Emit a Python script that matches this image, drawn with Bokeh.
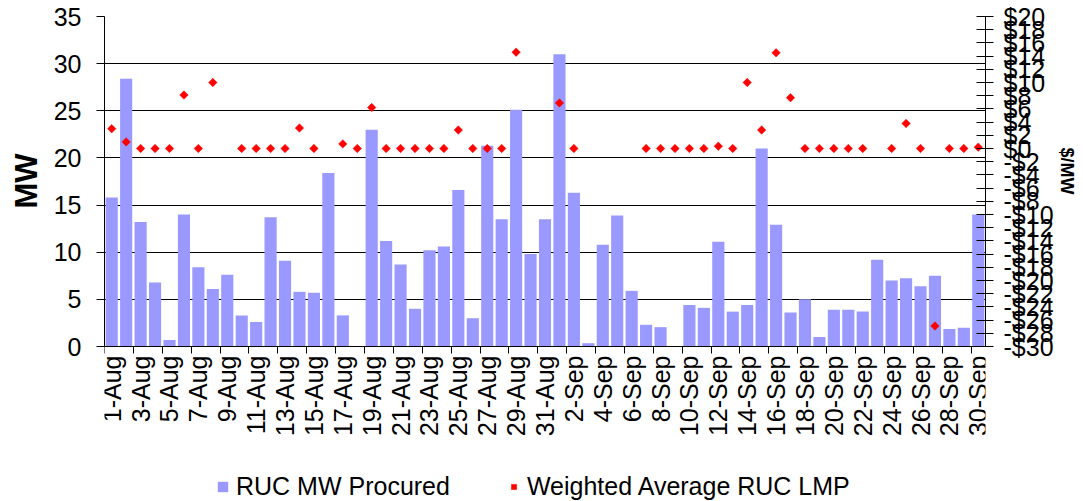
import numpy as np
from bokeh.plotting import figure
from bokeh.models import (ColumnDataSource, Range1d, LinearAxis, FixedTicker,
                          Legend, LegendItem, Title)
from bokeh.embed import file_html
from bokeh.resources import INLINE

# ---- data -------------------------------------------------------------
days = [f"{d}-Aug" for d in range(1, 32)] + [f"{d}-Sep" for d in range(1, 31)]

mw_procured = [15.8, 28.4, 13.2, 6.8, 0.7, 14.0, 8.4, 6.1, 7.6, 3.3,
               2.6, 13.7, 9.1, 5.8, 5.7, 18.4, 3.3, 0.0, 23.0, 11.2,
               8.7, 4.0, 10.2, 10.6, 16.6, 3.0, 21.3, 13.5, 25.1, 9.8,
               13.5, 31.0, 16.3, 0.35, 10.8, 13.9, 5.9, 2.3, 2.05, 0.0,
               4.4, 4.1, 11.1, 3.7, 4.4, 21.0, 12.9, 3.6, 5.0, 1.0,
               3.9, 3.9, 3.7, 9.2, 7.0, 7.25, 6.4, 7.5, 1.85, 2.0, 14.0]

nan = float("nan")
wavg_lmp = [3.0, 1.0, 0.0, 0.0, 0.0, 8.1, 0.0, 10.0, nan, 0.0,
            0.0, 0.0, 0.0, 3.1, 0.0, nan, 0.7, 0.0, 6.2, 0.0,
            0.0, 0.0, 0.0, 0.0, 2.8, 0.0, 0.0, 0.0, 14.6, nan,
            nan, 6.9, 0.0, nan, nan, nan, nan, 0.0, 0.0, 0.0,
            0.0, 0.0, 0.35, 0.0, 10.0, 2.8, 14.5, 7.7, 0.0, 0.0,
            0.0, 0.0, 0.0, nan, 0.0, 3.8, 0.0, -26.9, 0.0, 0.0, 0.2]

mw_ticks = [0, 5, 10, 15, 20, 25, 30, 35]
lmp_ticks = list(range(-30, 21, 2))
lmp_labels = {t: (f"${t}" if t >= 0 else f"-${-t}") for t in lmp_ticks}

# ---- geometry (pixels) ------------------------------------------------
W, H = 1083, 501
TOP = 16            # frame top
PLOT_H = 330        # height of the value area (0..35 MW)
BELOW = H - TOP - PLOT_H   # room under the value area for date labels + legend

mw_lo, mw_hi = 0, 35
lmp_lo, lmp_hi = -30, 20
mw_ext = mw_lo - BELOW * (mw_hi - mw_lo) / PLOT_H
lmp_ext = lmp_lo - BELOW * (lmp_hi - lmp_lo) / PLOT_H

# ---- figure -----------------------------------------------------------
FONT = "Liberation Sans"
idx = list(range(len(days)))
src = ColumnDataSource(dict(x=idx, mw=mw_procured, lmp=wavg_lmp))

p = figure(width=W, height=H, output_backend="svg", toolbar_location=None,
           x_range=Range1d(-0.5, len(days) - 0.5),
           y_range=Range1d(mw_ext, mw_hi),
           min_border_top=TOP, min_border_left=102, min_border_right=98,
           min_border_bottom=0)
p.outline_line_color = None
p.background_fill_color = "white"
p.extra_y_ranges = {"lmp": Range1d(lmp_ext, lmp_hi)}

bars = p.vbar(x="x", top="mw", bottom=0, width=0.84, source=src,
              fill_color="#9999FF", line_color=None)
pts = p.scatter(x="x", y="lmp", source=src, y_range_name="lmp",
                marker="square", angle=np.pi / 4, size=6,
                fill_color="#FF0000", line_color="#FF0000", line_width=0.5)

# x axis (pinned at 0 MW)
xax = p.xaxis[0]
xax.fixed_location = 0
xax.ticker = FixedTicker(ticks=list(range(0, len(days), 2)),
                         minor_ticks=[i - 0.5 for i in range(0, len(days), 2)])
xax.major_label_overrides = {i: days[i] for i in range(0, len(days), 2)}
xax.major_label_orientation = np.pi / 2
xax.major_tick_line_color = None
xax.major_tick_out = 7
xax.major_tick_in = 0
xax.minor_tick_out = 7
xax.minor_tick_in = 0
xax.minor_tick_line_color = "black"
xax.major_label_standoff = 2
xax.major_label_text_font = FONT
xax.major_label_text_font_size = "25px"
xax.major_label_text_color = "black"
xax.axis_line_color = "black"

# left axis
yax = p.yaxis[0]
tk = FixedTicker(ticks=mw_ticks)
yax.ticker = tk
yax.bounds = (mw_lo, mw_hi)
p.ygrid[0].ticker = tk
yax.major_label_text_font = FONT
yax.major_label_text_font_size = "25px"
yax.major_label_text_color = "black"
yax.major_label_standoff = 15
yax.major_tick_out = 8
yax.major_tick_in = 0
yax.minor_tick_line_color = None
yax.major_tick_line_color = "black"
yax.axis_line_color = "black"

p.xgrid.visible = False
p.ygrid.grid_line_color = "black"
p.ygrid.grid_line_width = 1

# right axis
rax = LinearAxis(y_range_name="lmp", ticker=FixedTicker(ticks=lmp_ticks),
                 major_label_overrides=lmp_labels, bounds=(lmp_lo, lmp_hi))
rax.major_label_text_font = FONT
rax.major_label_text_font_size = "25px"
rax.major_label_text_color = "black"
rax.major_label_standoff = 10
rax.major_tick_out = 8
rax.major_tick_in = 9
rax.minor_tick_line_color = None
rax.axis_line_color = "black"
p.add_layout(rax, "right")

# axis titles (placed beside the value area, not the whole frame)
left_title = Title(text="MW", align="left", offset=H - 208,
                   text_font=FONT, text_font_size="31px",
                   text_font_style="bold", text_color="black", standoff=13)
p.add_layout(left_title, "left")
right_title = Title(text="$/MW", align="left", offset=131,
                    text_font=FONT, text_font_size="18px",
                    text_font_style="bold", text_color="black", standoff=0)
p.add_layout(right_title, "right")

legend = Legend(items=[LegendItem(label="RUC MW Procured", renderers=[bars]),
                       LegendItem(label="Weighted Average RUC LMP", renderers=[pts])],
                orientation="horizontal", location=(112, 0),
                label_text_font=FONT, label_text_font_size="25px",
                label_text_color="black",
                glyph_width=13, glyph_height=13, label_standoff=7,
                spacing=57, padding=0, margin=0,
                border_line_color=None, background_fill_alpha=0)
p.add_layout(legend, "center")

open("out.html", "w").write(file_html(p, INLINE))
